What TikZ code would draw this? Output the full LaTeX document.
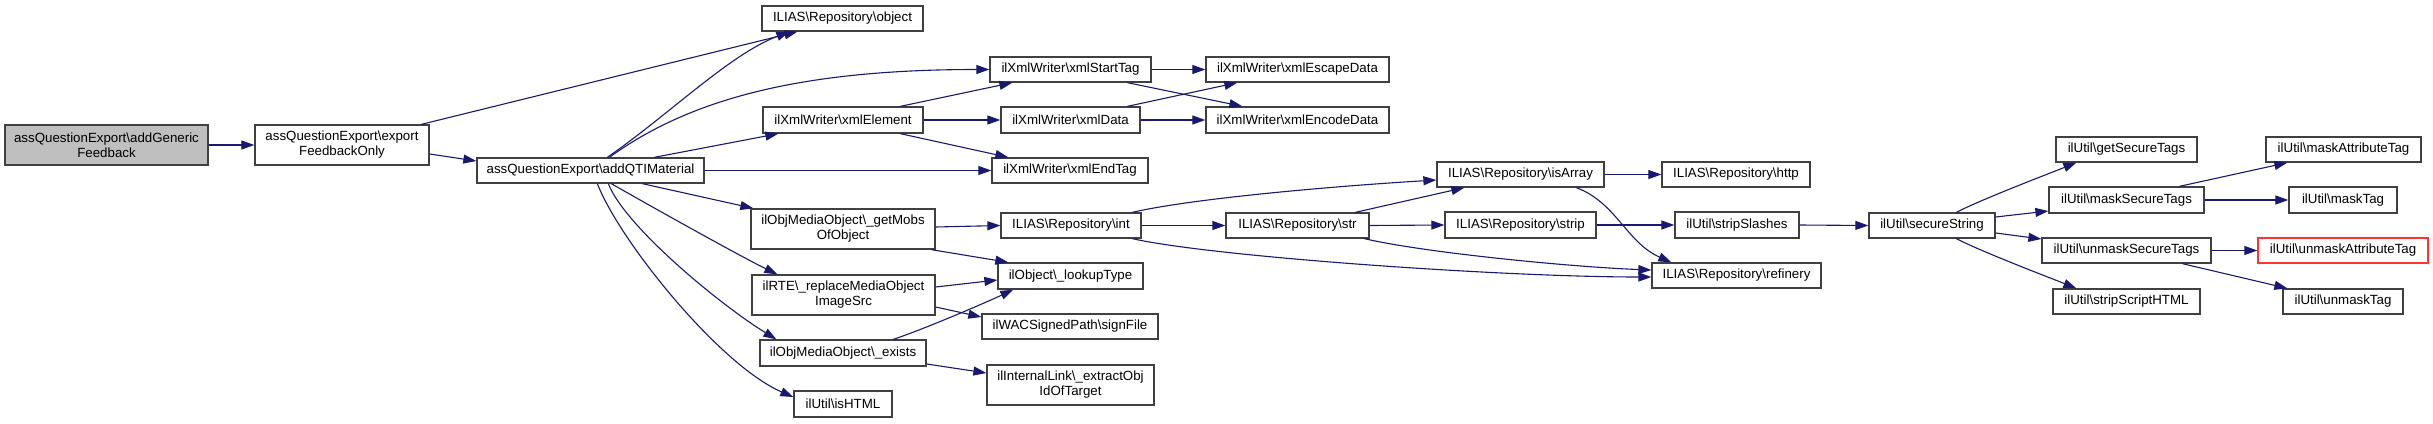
\documentclass[tikz,border=0pt]{standalone}
\usepackage{fontspec}
\setmainfont{Liberation Sans}
\usetikzlibrary{arrows.meta}
\definecolor{grey25}{HTML}{404040}
\definecolor{grey75}{HTML}{BFBFBF}
\definecolor{edgeblue}{HTML}{191970}
\definecolor{trunc}{HTML}{FF3333}
\newcommand{\bs}{\textbackslash}
\tikzset{
  fn/.style={draw=grey25, line width=1.3pt, inner sep=0pt, align=center,
    font=\fontsize{13.3}{15}\selectfont, fill=white},
  rootfn/.style={fn, fill=grey75},
  truncfn/.style={fn, draw=trunc},
  call/.style={draw=edgeblue, line width=1.1pt,
    -{Triangle[length=13pt,width=9pt]}, fill=none},
}
\begin{document}
\begin{tikzpicture}[x=1pt,y=-1pt]
\useasboundingbox[fill=white] (0,0) rectangle (2433,423);
% nodes
\node[rootfn, minimum width=203pt, minimum height=40pt] (agf) at (106.5,145) {assQuestionExport\bs addGeneric\\Feedback};
\node[fn, minimum width=174pt, minimum height=40pt] (efo) at (342,145) {assQuestionExport\bs export\\FeedbackOnly};
\node[fn, minimum width=227pt, minimum height=25pt] (qti) at (590.5,170.5) {assQuestionExport\bs addQTIMaterial};
\node[fn, minimum width=161pt, minimum height=25pt] (obj) at (842.5,18.5) {ILIAS\bs Repository\bs object};
\node[fn, minimum width=161pt, minimum height=25pt] (xst) at (1070.5,69.5) {ilXmlWriter\bs xmlStartTag};
\node[fn, minimum width=183pt, minimum height=25pt] (xesc) at (1297.5,69.5) {ilXmlWriter\bs xmlEscapeData};
\node[fn, minimum width=160pt, minimum height=26pt] (xel) at (843,120) {ilXmlWriter\bs xmlElement};
\node[fn, minimum width=139pt, minimum height=26pt] (xdat) at (1070.5,120) {ilXmlWriter\bs xmlData};
\node[fn, minimum width=183pt, minimum height=26pt] (xenc) at (1297.5,120) {ilXmlWriter\bs xmlEncodeData};
\node[fn, minimum width=156pt, minimum height=25pt] (xend) at (1070,170.5) {ilXmlWriter\bs xmlEndTag};
\node[fn, minimum width=184pt, minimum height=40pt] (gmo) at (843,229) {ilObjMediaObject\bs \_getMobs\\OfObject};
\node[fn, minimum width=140pt, minimum height=25pt] (int) at (1071,225.5) {ILIAS\bs Repository\bs int};
\node[fn, minimum width=143pt, minimum height=25pt] (str) at (1297.5,225.5) {ILIAS\bs Repository\bs str};
\node[fn, minimum width=145pt, minimum height=26pt] (lkt) at (1070.5,276) {ilObject\bs \_lookupType};
\node[fn, minimum width=183pt, minimum height=40pt] (rmo) at (843.5,295) {ilRTE\bs \_replaceMediaObject\\ImageSrc};
\node[fn, minimum width=176pt, minimum height=25pt] (sgf) at (1070,326.5) {ilWACSignedPath\bs signFile};
\node[fn, minimum width=166pt, minimum height=26pt] (exi) at (843,353) {ilObjMediaObject\bs \_exists};
\node[fn, minimum width=167pt, minimum height=40pt] (ext) at (1070.5,385) {ilInternalLink\bs \_extractObj\\IdOfTarget};
\node[fn, minimum width=98pt, minimum height=26pt] (ish) at (843,404) {ilUtil\bs isHTML};
\node[fn, minimum width=167pt, minimum height=25pt] (isa) at (1520.5,174.5) {ILIAS\bs Repository\bs isArray};
\node[fn, minimum width=148pt, minimum height=25pt] (htp) at (1736,174.5) {ILIAS\bs Repository\bs http};
\node[fn, minimum width=151pt, minimum height=26pt] (stp) at (1520.5,225) {ILIAS\bs Repository\bs strip};
\node[fn, minimum width=169pt, minimum height=25pt] (ref) at (1736.5,275.5) {ILIAS\bs Repository\bs refinery};
\node[fn, minimum width=124pt, minimum height=26pt] (sls) at (1737,225) {ilUtil\bs stripSlashes};
\node[fn, minimum width=126pt, minimum height=25pt] (sst) at (1932,225.5) {ilUtil\bs secureString};
\node[fn, minimum width=141pt, minimum height=25pt] (gst) at (2126.5,149.5) {ilUtil\bs getSecureTags};
\node[fn, minimum width=155pt, minimum height=26pt] (mst) at (2126.5,200) {ilUtil\bs maskSecureTags};
\node[fn, minimum width=169pt, minimum height=25pt] (ust) at (2126.5,250.5) {ilUtil\bs unmaskSecureTags};
\node[fn, minimum width=147pt, minimum height=25pt] (ssh) at (2126.5,301.5) {ilUtil\bs stripScriptHTML};
\node[fn, minimum width=155pt, minimum height=25pt] (mat) at (2343.5,149.5) {ilUtil\bs maskAttributeTag};
\node[fn, minimum width=108pt, minimum height=26pt] (mtg) at (2343,200) {ilUtil\bs maskTag};
\node[truncfn, minimum width=170pt, minimum height=25pt] (uat) at (2343,250.5) {ilUtil\bs unmaskAttributeTag};
\node[fn, minimum width=120pt, minimum height=25pt] (utg) at (2343,301.5) {ilUtil\bs unmaskTag};
% edges
\draw[call] (agf.east) -- (efo.west);
\draw[call] ([xshift=167pt]efo.north west) -- ([xshift=36pt]obj.south west);
\draw[call] ([yshift=-9pt]efo.east) -- ([yshift=9.5pt]qti.west);
\draw[call] ([xshift=131pt]qti.north west) .. controls +(62,-43) and +(-60,23) .. ([xshift=28pt]obj.south west);
\draw[call] ([xshift=133pt]qti.north west) .. controls +(80,-58) and +(-190,0) .. (xst.west);
\draw[call] ([xshift=178pt]qti.north west) -- ([xshift=16pt]xel.south west);
\draw[call] (qti.east) -- (xend.west);
\draw[call] ([xshift=166pt]qti.south west) -- ([xshift=3pt]gmo.north west);
\draw[call] ([xshift=135pt]qti.south west) .. controls +(40,23) and +(-35,-17) .. ([xshift=26pt]rmo.north west);
\draw[call] ([xshift=132pt]qti.south west) .. controls +(16,42) and +(-57,-35) .. ([xshift=17pt]exi.north west);
\draw[call] ([xshift=121pt]qti.south west) .. controls +(22,57) and +(-74,-32) .. ([yshift=7pt]ish.west);
\draw[call] ([xshift=138pt]xel.north west) -- ([xshift=23pt]xst.south west);
\draw[call] (xel.east) -- (xdat.west);
\draw[call] ([xshift=138pt]xel.south west) -- ([xshift=17pt]xend.north west);
\draw[call] (xst.east) -- (xesc.west);
\draw[call] ([xshift=138pt]xst.south west) -- ([xshift=37pt]xenc.north west);
\draw[call] ([xshift=127pt]xdat.north west) -- ([xshift=32pt]xesc.south west);
\draw[call] (xdat.east) -- (xenc.west);
\draw[call] ([yshift=2pt]gmo.east) -- (int.west);
\draw[call] ([xshift=181pt]gmo.south west) -- ([xshift=11pt]lkt.north west);
\draw[call] ([yshift=8pt]rmo.east) -- ([yshift=-4pt]lkt.west);
\draw[call] ([yshift=-12pt]rmo.east) -- ([yshift=9.5pt]sgf.west);
\draw[call] ([xshift=134pt]exi.north west) .. controls +(30,-10) and +(-30,14) .. ([xshift=16pt]lkt.south west);
\draw[call] ([yshift=-11pt]exi.east) -- ([yshift=12pt]ext.west);
\draw[call] ([xshift=132pt]int.north west) .. controls +(60,-14) and +(-100,6) .. ([yshift=-5.5pt]isa.west);
\draw[call] (int.east) -- (str.west);
\draw[call] ([xshift=132pt]int.south west) .. controls +(80,18) and +(-150,0) .. ([yshift=-1.5pt]ref.west);
\draw[call] ([xshift=130pt]str.north west) -- ([xshift=28pt]isa.south west);
\draw[call] (str.east) -- (stp.west);
\draw[call] ([xshift=139pt]str.south west) .. controls +(60,14) and +(-80,-3) .. ([yshift=5.5pt]ref.west);
\draw[call] (isa.east) -- (htp.west);
\draw[call] ([xshift=140pt]isa.south west) .. controls +(40,15) and +(-45,-20) .. ([xshift=20pt]ref.north west);
\draw[call] (stp.east) -- (sls.west);
\draw[call] (sls.east) -- (sst.west);
\draw[call] ([xshift=88pt]sst.north west) .. controls +(25,-13) and +(-25,10) .. ([xshift=21pt]gst.south west);
\draw[call] ([yshift=8.5pt]sst.east) -- ([yshift=-11pt]mst.west);
\draw[call] ([yshift=-7.5pt]sst.east) -- ([yshift=11.5pt]ust.west);
\draw[call] ([xshift=88pt]sst.south west) .. controls +(25,13) and +(-25,-10) .. ([xshift=24pt]ssh.north west);
\draw[call] ([xshift=131pt]mst.north west) -- ([xshift=22pt]mat.south west);
\draw[call] (mst.east) -- (mtg.west);
\draw[call] (ust.east) -- (uat.west);
\draw[call] ([xshift=141pt]ust.south west) -- ([xshift=5pt]utg.north west);
\end{tikzpicture}
\end{document}
